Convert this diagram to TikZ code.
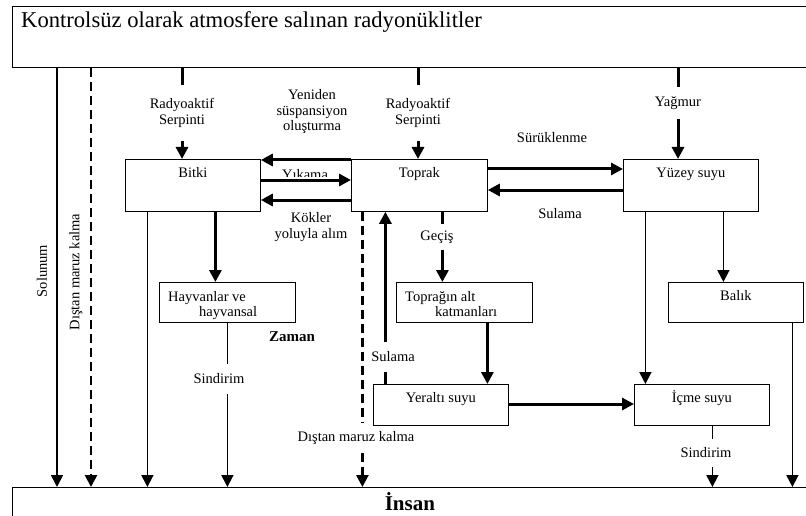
\documentclass[tikz,border=0pt]{standalone}
\usepackage{fontspec}
\setmainfont{Liberation Serif}
\usetikzlibrary{arrows.meta}

\begin{document}
\begin{tikzpicture}[x=1pt,y=-1pt,
  >={Triangle[length=12pt,width=12pt]},
  every node/.style={font=\fontsize{14.5}{15.5}\selectfont},
  box/.style={draw,line width=0.8pt,inner sep=0pt,anchor=north west,minimum width=135pt,minimum height=52pt},
  lowbox/.style={box,minimum height=40pt},
  inlbl/.style={anchor=base,inner sep=0pt,yshift=-18.5pt},
  inlbltwo/.style={anchor=north west,inner sep=0pt,align=left,xshift=9pt,yshift=-9pt},
  brk/.style={inner xsep=1pt,inner ysep=#1,align=center},
  thk/.style={line width=3pt},
  thn/.style={line width=1.8pt},
  dsh/.style={line width=2.6pt,dash pattern=on 9pt off 5pt}]
  \useasboundingbox (0,0) rectangle (806,516);
  \clip (0,0) rectangle (806,516);
  \node[box,minimum width=795pt,minimum height=61pt,
    label={[anchor=base west,inner sep=0pt,xshift=9pt,yshift=-22pt,font=\fontsize{22.6}{26}\selectfont]north west:Kontrolsüz olarak atmosfere salınan radyonüklitler}] (atmos) at (12,6) {};
  \node[box,minimum width=795pt,minimum height=45pt,
    label={[anchor=base,inner sep=0pt,yshift=-23pt,font=\fontsize{21}{24}\selectfont\bfseries]north:İnsan}] (insan) at (12,487) {};
  \node[box,label={[inlbl]north:Bitki}] (bitki) at (125,159) {};
  \node[box,minimum width=136pt,label={[inlbl]north:Toprak}] (toprak) at (351,159) {};
  \node[box,label={[inlbl]north:Yüzey suyu}] (yuzey) at (623,159) {};
  \node[lowbox,minimum width=136pt,label={[inlbltwo]north west:Hayvanlar ve\\\hspace*{31pt}hayvansal}] (hayvan) at (159,282) {};
  \node[lowbox,minimum width=136pt,label={[inlbltwo]north west:Toprağın alt\\\hspace*{30pt}katmanları}] (altk) at (396,282) {};
  \node[lowbox,label={[inlbl]north:Balık}] (balik) at (668,282) {};
  \node[lowbox,minimum height=41pt,label={[inlbl]north:Yeraltı suyu}] (yeralti) at (373,384) {};
  \node[lowbox,minimum height=41pt,label={[inlbl]north:İçme suyu}] (icme) at (634,384) {};

  \node[brk=13pt] (serp1) at (182,113) {Radyoaktif\\Serpinti};
  \node[brk=13pt] (serp2) at (418,113) {Radyoaktif\\Serpinti};
  \node[brk=9pt] (yagmur) at (678,103) {Yağmur};
  \node[align=center] (yeniden) at (312,112) {Yeniden\\süspansiyon\\oluşturma};
  \node[align=center] (kokler) at (311,227) {Kökler\\yoluyla alım};
  \node (surukle) at (552,138) {Sürüklenme};
  \node (sulama) at (560,214) {Sulama};
  \node[font=\fontsize{15}{16}\selectfont\bfseries] (zaman) at (292,337) {Zaman};
  \node[rotate=90] (solunum) at (42,271) {Solunum};
  \node[rotate=90] (dis1) at (76,272) {Dıştan maruz kalma};
  \node[brk=6pt] (gecis) at (437,237) {Geçiş};
  \node[brk=10pt] (sind1) at (219,379) {Sindirim};
  \node[brk=10pt] (sulama2) at (393,357) {Sulama};
  \node[brk=8pt] (dis2) at (356,438) {Dıştan maruz kalma};
  \node[brk=9pt] (sind2) at (706,453) {Sindirim};
  \begin{scope}
    \clip (270,150) rectangle (340,176.5);
    \node[anchor=base] (yikama) at (305,179) {Yıkama};
  \end{scope}

  \draw[thn,->] ([xshift=45pt]atmos.south west) -- ([xshift=45pt]atmos.south west |- insan.north);
  \draw[dsh,->] ([xshift=79pt]atmos.south west) -- ([xshift=79pt]atmos.south west |- insan.north);
  \draw[thk] (atmos.south -| serp1) -- (serp1);
  \draw[thk,->] (serp1) -- (serp1 |- bitki.north);
  \draw[thk] (atmos.south -| serp2) -- (serp2);
  \draw[thk,->] (serp2) -- (serp2 |- toprak.north);
  \draw[thk] (atmos.south -| yagmur) -- (yagmur);
  \draw[thk,->] (yagmur) -- (yagmur |- yuzey.north);

  \draw[thk,->] ([yshift=-1pt]toprak.north west) -- ([yshift=-1pt]bitki.north east);
  \draw[thk,->] ([yshift=-21pt]bitki.north east) -- ([yshift=-21pt]toprak.north west);
  \draw[thk,->] ([yshift=-41pt]toprak.north west) -- ([yshift=-41pt]bitki.north east);
  \draw[thk,->] ([yshift=-10pt]toprak.north east) -- ([yshift=-10pt]yuzey.north west);
  \draw[thk,->] ([yshift=-31pt]yuzey.north west) -- ([yshift=-31pt]toprak.north east);

  \draw[thn,->] ([xshift=-45.5pt]bitki.south) -- ([xshift=-45.5pt]bitki.south |- insan.north);
  \draw[thk,->] ([xshift=22.5pt]bitki.south) -- ([xshift=22.5pt]bitki.south |- hayvan.north);
  \draw[thn] (hayvan.south) -- (hayvan.south |- sind1.north);
  \draw[thn,->] (hayvan.south |- sind1.south) -- (hayvan.south |- insan.north);

  \draw[thk] ([xshift=23pt]toprak.south) -- ([xshift=23pt]toprak.south |- gecis.north);
  \draw[thk,->] ([xshift=23pt]toprak.south |- gecis.south) -- ([xshift=23pt]toprak.south |- altk.north);
  \draw[thk,->] ([xshift=23pt]altk.south) -- ([xshift=23pt]altk.south |- yeralti.north);
  \draw[thk] ([xshift=-55.5pt]yeralti.north) -- ([xshift=-55.5pt]yeralti.north |- sulama2.south);
  \draw[thk,->] ([xshift=-55.5pt]yeralti.north |- sulama2.north) -- ([xshift=-55.5pt]yeralti.north |- toprak.south);
  \draw[dsh] ([xshift=-57pt]toprak.south) -- ([xshift=-57pt]toprak.south |- dis2.north);
  \draw[dsh,->] ([xshift=-57pt]toprak.south |- dis2.south) -- ([xshift=-57pt]toprak.south |- insan.north);

  \draw[thn,->] ([xshift=-45.5pt]yuzey.south) -- ([xshift=-45.5pt]yuzey.south |- icme.north);
  \draw[thn,->] ([xshift=32.5pt]yuzey.south) -- ([xshift=32.5pt]yuzey.south |- balik.north);
  \draw[thn,->] ([xshift=56.5pt]balik.south) -- ([xshift=56.5pt]balik.south |- insan.north);
  \draw[thk,->] ([yshift=-20pt]yeralti.north east) -- ([yshift=-20pt]icme.north west);
  \draw[thn] ([xshift=10.5pt]icme.south) -- ([xshift=10.5pt]icme.south |- sind2.north);
  \draw[thn,->] ([xshift=10.5pt]icme.south |- sind2.south) -- ([xshift=10.5pt]icme.south |- insan.north);
\end{tikzpicture}
\end{document}
